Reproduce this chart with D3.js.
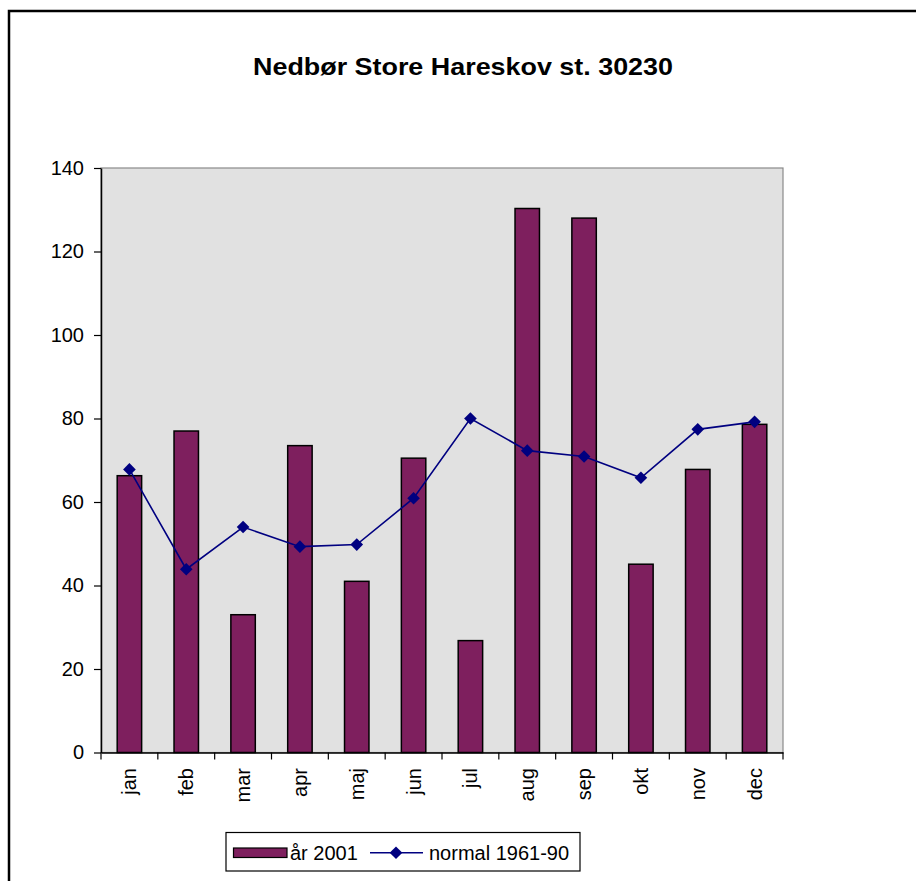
<!DOCTYPE html>
<html>
<head>
<meta charset="utf-8">
<script src="https://cdn.jsdelivr.net/npm/d3@7"></script>
<style>
  html, body { margin: 0; padding: 0; background: #ffffff; }
  svg { display: block; }
  text { font-family: "Liberation Sans", Arial, Helvetica, sans-serif; fill: #000; }
</style>
</head>
<body>
<svg id="chart" width="916" height="881"></svg>
<script>
const months = ["jan","feb","mar","apr","maj","jun","jul","aug","sep","okt","nov","dec"];
const year2001 = [66.3, 77.0, 33.0, 73.5, 41.0, 70.5, 26.8, 130.3, 128.0, 45.1, 67.8, 78.6];
const normal6190 = [67.8, 43.9, 54.0, 49.3, 49.8, 60.9, 80.0, 72.3, 70.9, 65.8, 77.4, 79.2];
const yTicks = [0, 20, 40, 60, 80, 100, 120, 140];
const seriesNames = ["år 2001", "normal 1961-90"];
const titleText = "Nedbør Store Hareskov st. 30230";

const barColor = "#7e1f5e";
const lineColor = "#000080";

const svg = d3.select("#chart");

// outer chart border (extends past the window)
svg.append("rect")
  .attr("x", 9).attr("y", 11)
  .attr("width", 1000).attr("height", 1000)
  .attr("fill", "none").attr("stroke", "#000").attr("stroke-width", 2.5);

const pLeft = 101, pRight = 783, pTop = 168, pBottom = 752.5;

const x = d3.scaleBand().domain(months).range([pLeft, pRight]).padding(0);
const xBar = d3.scaleBand().domain(months).range([pLeft, pRight])
  .paddingInner(0.57).paddingOuter(0.285);
const y = d3.scaleLinear().domain([0, 140]).range([pBottom, pTop]);

// plot area
svg.append("rect")
  .attr("x", pLeft).attr("y", pTop)
  .attr("width", pRight - pLeft).attr("height", pBottom - pTop)
  .attr("fill", "#e1e1e1").attr("stroke", "#8a8a8a").attr("stroke-width", 1.2);

// title
svg.append("text")
  .attr("x", 463).attr("y", 74.5)
  .attr("text-anchor", "middle")
  .attr("font-size", 24).attr("font-weight", "bold")
  .attr("textLength", 420).attr("lengthAdjust", "spacingAndGlyphs")
  .text(titleText);

// bars
svg.append("g").selectAll("rect")
  .data(months)
  .join("rect")
  .attr("x", d => xBar(d))
  .attr("width", xBar.bandwidth())
  .attr("y", (d, i) => y(year2001[i]))
  .attr("height", (d, i) => y(0) - y(year2001[i]))
  .attr("fill", barColor)
  .attr("stroke", "#000").attr("stroke-width", 1.5);

// y axis
const yAxis = svg.append("g")
  .attr("transform", `translate(${pLeft},0)`)
  .call(d3.axisLeft(y).tickValues(yTicks).tickSize(7).tickPadding(10).tickSizeOuter(0));
yAxis.select(".domain").attr("stroke", "#000").attr("stroke-width", 1.5);
yAxis.selectAll(".tick line").attr("stroke", "#000").attr("stroke-width", 1.2);
yAxis.selectAll(".tick text")
  .attr("font-size", 20).attr("font-family", "Liberation Sans, Arial, sans-serif")
  .attr("fill", "#000");

// x axis line + boundary ticks
const xAxis = svg.append("g")
  .attr("transform", `translate(0,${pBottom})`)
  .call(d3.axisBottom(x).tickSize(0).tickFormat(""));
xAxis.select(".domain").attr("stroke", "#000").attr("stroke-width", 1.5);
const bounds = months.map(m => x(m)).concat([x(months[months.length - 1]) + x.step()]);
svg.append("g").selectAll("line")
  .data(bounds)
  .join("line")
  .attr("x1", d => d).attr("x2", d => d)
  .attr("y1", pBottom).attr("y2", pBottom + 7)
  .attr("stroke", "#000").attr("stroke-width", 1.2);

// x labels (rotated)
svg.append("g").selectAll("text")
  .data(months)
  .join("text")
  .attr("transform", d => `translate(${x(d) + x.bandwidth() / 2},768) rotate(-90)`)
  .attr("text-anchor", "end")
  .attr("dy", "0.35em")
  .attr("font-size", 20)
  .text(d => d);

// normal line
const line = d3.line()
  .x((d, i) => x(months[i]) + x.bandwidth() / 2)
  .y(d => y(d));
svg.append("path")
  .datum(normal6190)
  .attr("d", line)
  .attr("fill", "none")
  .attr("stroke", lineColor).attr("stroke-width", 1.6);

svg.append("g").selectAll("path")
  .data(normal6190)
  .join("path")
  .attr("transform", (d, i) => `translate(${x(months[i]) + x.bandwidth() / 2},${y(d)}) rotate(45)`)
  .attr("d", d3.symbol().type(d3.symbolSquare).size(80))
  .attr("fill", lineColor);

// legend
const lg = svg.append("g");
lg.append("rect")
  .attr("x", 226).attr("y", 832.5)
  .attr("width", 354).attr("height", 38.5)
  .attr("fill", "#fff").attr("stroke", "#000").attr("stroke-width", 1.2);
lg.append("rect")
  .attr("x", 233.5).attr("y", 848)
  .attr("width", 53.5).attr("height", 9.5)
  .attr("fill", barColor).attr("stroke", "#000").attr("stroke-width", 1.2);
lg.append("text")
  .attr("x", 290).attr("y", 859.5)
  .attr("font-size", 20)
  .text(seriesNames[0]);
lg.append("line")
  .attr("x1", 370).attr("x2", 423)
  .attr("y1", 852.7).attr("y2", 852.7)
  .attr("stroke", lineColor).attr("stroke-width", 1.6);
lg.append("path")
  .attr("transform", "translate(396,852.7) rotate(45)")
  .attr("d", d3.symbol().type(d3.symbolSquare).size(80))
  .attr("fill", lineColor);
lg.append("text")
  .attr("x", 429).attr("y", 859.5)
  .attr("font-size", 20)
  .text(seriesNames[1]);
</script>
</body>
</html>
